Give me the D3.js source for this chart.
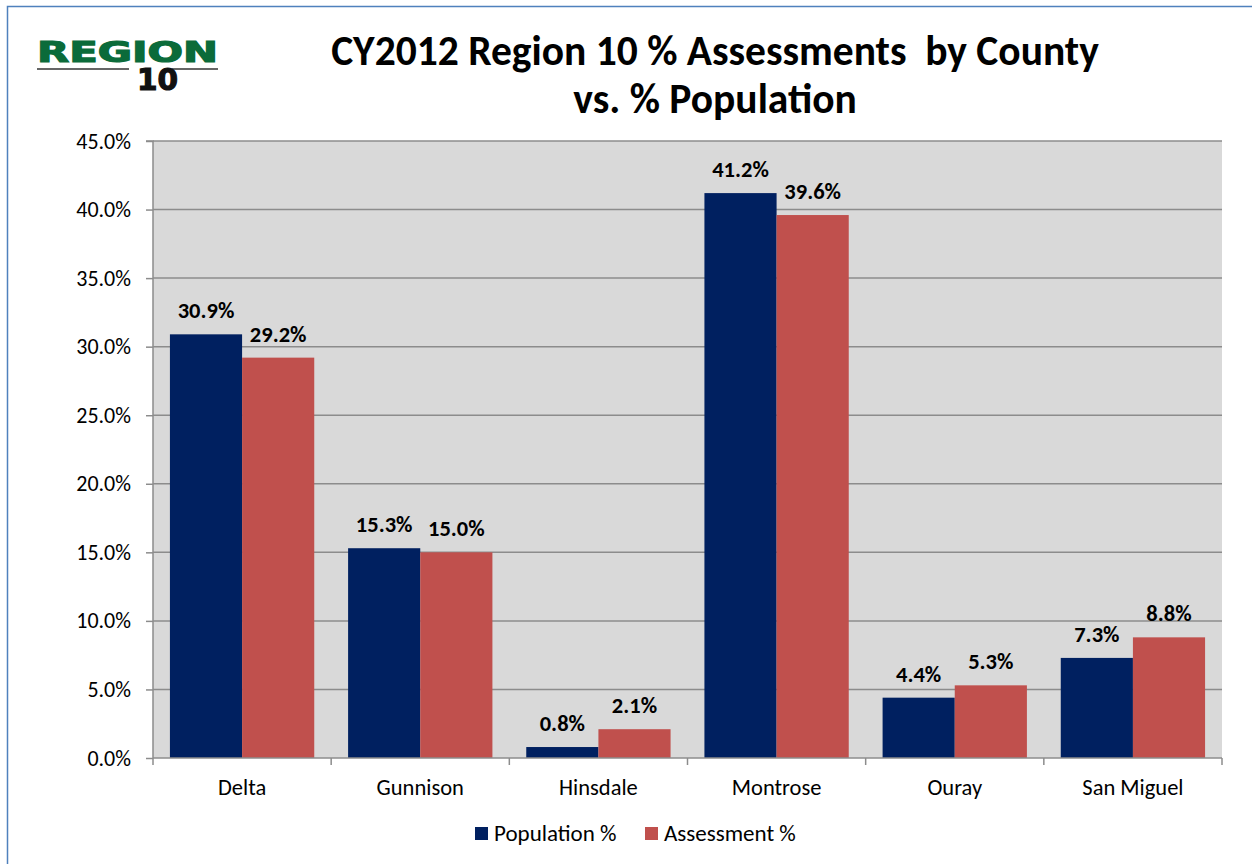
<!DOCTYPE html>
<html><head><meta charset="utf-8">
<script src="https://cdn.jsdelivr.net/npm/d3@7"></script>
<style>body{margin:0;background:#fff}svg{display:block}</style>
</head><body>
<script>
const categories = ["Delta","Gunnison","Hinsdale","Montrose","Ouray","San Miguel"];
const seriesNames = ["Population %","Assessment %"];
const populationPct = [30.9,15.3,0.8,41.2,4.4,7.3];
const assessmentPct = [29.2,15.0,2.1,39.6,5.3,8.8];
const yTicks = [0,5,10,15,20,25,30,35,40,45];
const colors = ["#002060","#C0504D"];

const W=1252,H=864;
const svg=d3.select("body").append("svg").attr("width",W).attr("height",H);
const font="Calibri, Carlito, 'Open Sans', sans-serif";
// frame
svg.append("rect").attr("x",7.5).attr("y",6.5).attr("width",1300).attr("height",900)
  .attr("fill","none").attr("stroke","#4F81BD").attr("stroke-width",1.5);

const m={l:153,t:141,r:1222,b:758};
const x=d3.scaleBand().domain(categories).range([m.l,m.r]).paddingInner(0.19).paddingOuter(0.095);
const xs=d3.scaleBand().domain(seriesNames).range([0,x.bandwidth()]);
const y=d3.scaleLinear().domain([0,45]).range([m.b,m.t]);

svg.append("rect").attr("x",m.l).attr("y",m.t).attr("width",m.r-m.l).attr("height",m.b-m.t).attr("fill","#D9D9D9");
// gridlines
svg.append("g").selectAll("line").data(yTicks.filter(d=>d>0)).join("line")
  .attr("x1",m.l).attr("x2",m.r).attr("y1",d=>y(d)).attr("y2",d=>y(d))
  .attr("stroke","#8C8C8C").attr("stroke-width",1.5);

const data=categories.map((c,i)=>({c,vals:[populationPct[i],assessmentPct[i]]}));
const g=svg.append("g").selectAll("g").data(data).join("g").attr("transform",d=>`translate(${x(d.c)},0)`);
g.selectAll("rect").data(d=>d.vals.map((v,j)=>({v,s:seriesNames[j],j}))).join("rect")
  .attr("x",d=>xs(d.s)).attr("width",xs.bandwidth()).attr("y",d=>y(d.v)).attr("height",d=>y(0)-y(d.v))
  .attr("fill",d=>colors[d.j]);
g.selectAll("text").data(d=>d.vals.map((v,j)=>({v,s:seriesNames[j],j}))).join("text")
  .attr("x",d=>xs(d.s)+xs.bandwidth()/2).attr("y",d=>y(d.v)-16)
  .attr("text-anchor","middle").attr("font-family",font).attr("font-weight","bold").attr("font-size",22.5)
  .attr("fill","#000").text(d=>d.v.toFixed(1)+"%");

// y axis
const ya=svg.append("g").attr("transform",`translate(${m.l},0)`)
  .call(d3.axisLeft(y).tickValues(yTicks).tickSize(7).tickPadding(15).tickFormat(d=>d.toFixed(1)+"%"));
ya.select(".domain").attr("stroke","#8C8C8C").attr("stroke-width",1.5).attr("d",`M-7,${m.t}H0V${m.b}`);
ya.selectAll(".tick line").attr("stroke","#8C8C8C").attr("stroke-width",1.5);
ya.selectAll(".tick text").attr("font-family",font).attr("font-size",22).attr("fill","#000");

// x axis
const xa=svg.append("g").attr("transform",`translate(0,${m.b})`);
xa.append("line").attr("x1",m.l).attr("x2",m.r).attr("stroke","#8C8C8C").attr("stroke-width",1.5);
const bounds=categories.map(c=>x(c)-x.step()*x.paddingInner()/2).concat([m.r]);
xa.selectAll(".tk").data(bounds).join("line").attr("class","tk")
  .attr("x1",d=>d).attr("x2",d=>d).attr("y1",0).attr("y2",7).attr("stroke","#8C8C8C").attr("stroke-width",1.5);
xa.selectAll("text").data(categories).join("text")
  .attr("x",d=>x(d)+x.bandwidth()/2).attr("y",37).attr("text-anchor","middle")
  .attr("font-family",font).attr("font-size",22.5).attr("fill","#000").text(d=>d);

// legend
const leg=svg.append("g");
const lx=[475,645];
seriesNames.forEach((s,i)=>{
  leg.append("rect").attr("x",lx[i]).attr("y",827).attr("width",13).attr("height",13).attr("fill",colors[i]);
  leg.append("text").attr("x",lx[i]+19).attr("y",841).attr("font-family",font).attr("font-size",23).attr("fill","#000").text(s);
});

// title
const t=svg.append("text").attr("text-anchor","middle").attr("font-family",font).attr("font-weight","bold").attr("font-size",41.5).attr("fill","#000");
t.append("tspan").attr("x",715).attr("y",65).text("CY2012 Region 10 % Assessments\u00a0\u00a0by County");
t.append("tspan").attr("x",715).attr("y",113).text("vs. % Population");

// logo
const logo=svg.append("g");
logo.append("text").attr("x",37).attr("y",62).attr("font-family","'DejaVu Sans', sans-serif").attr("font-weight","bold")
  .attr("font-size",28).attr("fill","#0B6B3A").attr("stroke","#0B6B3A").attr("stroke-width",1.2)
  .attr("textLength",181).attr("lengthAdjust","spacingAndGlyphs").text("REGION");
logo.append("line").attr("x1",37).attr("x2",129).attr("y1",69).attr("y2",69).attr("stroke","#333").attr("stroke-width",1.5);
logo.append("line").attr("x1",172).attr("x2",218).attr("y1",69).attr("y2",69).attr("stroke","#333").attr("stroke-width",1.5);
logo.append("text").attr("x",137).attr("y",90).attr("font-family","'DejaVu Sans', sans-serif").attr("font-weight","bold")
  .attr("font-size",30).attr("fill","#111").attr("stroke","#111").attr("stroke-width",1.2)
  .attr("textLength",41).attr("lengthAdjust","spacingAndGlyphs").text("10");
</script>
</body></html>
